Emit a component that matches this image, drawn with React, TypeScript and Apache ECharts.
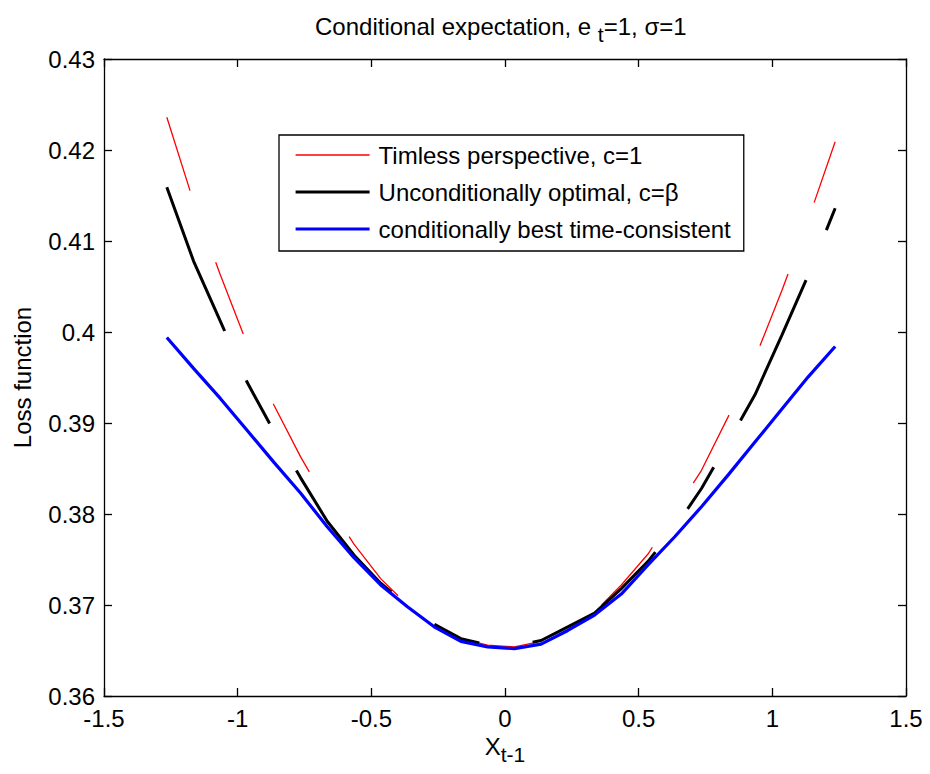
import React, { useEffect, useRef } from "react";
import * as echarts from "echarts";

const X_VALUES = [-1.265, -1.165, -1.065, -0.965, -0.865, -0.765, -0.665, -0.565, -0.465, -0.365, -0.265, -0.165, -0.065, 0.035, 0.135, 0.235, 0.335, 0.435, 0.535, 0.635, 0.735, 0.835, 0.935, 1.035, 1.135, 1.235];
const TIMELESS = [0.4236, 0.4143, 0.4063, 0.3987, 0.392, 0.3863, 0.3812, 0.3767, 0.3729, 0.37, 0.3679, 0.3663, 0.3656, 0.3654, 0.366, 0.3676, 0.3692, 0.3722, 0.3756, 0.3802, 0.3848, 0.3907, 0.3971, 0.4045, 0.4124, 0.4209];
const UNCOND = [0.4159, 0.4078, 0.4012, 0.3945, 0.3891, 0.384, 0.3792, 0.3755, 0.3724, 0.37, 0.3679, 0.3663, 0.3656, 0.3655, 0.3661, 0.3676, 0.3691, 0.3718, 0.3748, 0.3785, 0.3828, 0.3879, 0.3931, 0.3996, 0.4063, 0.4136];
const COND = [0.3994, 0.396, 0.3927, 0.3892, 0.3857, 0.3823, 0.3786, 0.3752, 0.3722, 0.3698, 0.3676, 0.366, 0.3654, 0.3652, 0.3657, 0.3672, 0.3689, 0.3712, 0.3744, 0.3775, 0.3808, 0.3843, 0.3879, 0.3915, 0.3951, 0.3984];

const SERIES_NAMES = [
  "Timless perspective, c=1",
  "Unconditionally optimal, c=β",
  "conditionally best time-consistent",
];

const FONT = "'Liberation Sans', Arial, Helvetica, sans-serif";

export default function App() {
  const ref = useRef<HTMLDivElement>(null);

  useEffect(() => {
    if (!ref.current) return;
    const chart = echarts.init(ref.current, undefined, { renderer: "svg" });

    const axisLine = { show: true, onZero: false, lineStyle: { color: "#000", width: 1.3 } };
    const axisTick = { show: true, inside: true, length: 8, lineStyle: { color: "#000", width: 1.3 } };
    const label = { fontSize: 24, color: "#000", fontFamily: FONT };

    const toPairs = (ys: number[]) => X_VALUES.map((x, i) => [x, ys[i]]);

    chart.setOption({
      animation: false,
      backgroundColor: "#fff",
      title: {
        text: "{a|Conditional expectation, e }{s|t}{a|=1, σ=1}",
        left: 315,
        top: 8,
        padding: 0,
        textStyle: {
          fontWeight: "normal",
          rich: {
            a: { fontSize: 24, color: "#000", fontFamily: FONT, fontWeight: "normal" },
            s: { fontSize: 21, color: "#000", fontFamily: FONT, fontWeight: "normal", padding: [16, 0, 0, 0] },
          },
        },
      },
      grid: { left: 104, right: 24, top: 59, bottom: 78, containLabel: false },
      legend: {
        orient: "vertical",
        left: 279,
        top: 135,
        padding: [8, 13, 10, 15],
        itemGap: 13,
        itemWidth: 74,
        itemHeight: 14,
        borderColor: "#000",
        borderWidth: 1.3,
        backgroundColor: "#fff",
        itemStyle: { opacity: 0 },
        lineStyle: { width: "inherit", type: "solid" },
        textStyle: { fontSize: 24, color: "#000", fontFamily: FONT, padding: [0, 0, 0, 4] },
        data: SERIES_NAMES,
      },
      xAxis: [
        {
          type: "value",
          position: "bottom",
          min: -1.5,
          max: 1.5,
          interval: 0.5,
          axisLine,
          axisTick,
          splitLine: { show: false },
          axisLabel: { ...label, margin: 10 },
          name: "{m|X}{s|t-1}",
          nameLocation: "middle",
          nameGap: 27,
          nameTextStyle: {
            rich: {
              m: { fontSize: 24, color: "#000", fontFamily: FONT },
              s: { fontSize: 21, color: "#000", fontFamily: FONT, padding: [16, 0, 0, 0] },
            },
          },
        },
        {
          type: "value",
          position: "top",
          min: -1.5,
          max: 1.5,
          interval: 0.5,
          axisLine,
          axisTick,
          splitLine: { show: false },
          axisLabel: { show: false },
        },
      ],
      yAxis: [
        {
          type: "value",
          position: "left",
          min: 0.36,
          max: 0.43,
          interval: 0.01,
          axisLine,
          axisTick,
          splitLine: { show: false },
          axisLabel: { ...label, margin: 9 },
          name: "Loss function",
          nameLocation: "middle",
          nameGap: 70,
          nameTextStyle: { fontSize: 24, color: "#000", fontFamily: FONT },
        },
        {
          type: "value",
          position: "right",
          min: 0.36,
          max: 0.43,
          interval: 0.01,
          axisLine,
          axisTick,
          splitLine: { show: false },
          axisLabel: { show: false },
        },
      ],
      series: [
        {
          name: SERIES_NAMES[0],
          type: "line",
          data: toPairs(TIMELESS),
          symbol: "none",
          lineStyle: { color: "#ff0000", width: 1.3, type: [77, 76], dashOffset: 0 },
          itemStyle: { color: "#ff0000" },
        },
        {
          name: SERIES_NAMES[1],
          type: "line",
          data: toPairs(UNCOND),
          symbol: "none",
          lineStyle: { color: "#000000", width: 3, type: [155, 54, 49, 54], dashOffset: 0 },
          itemStyle: { color: "#000000" },
        },
        {
          name: SERIES_NAMES[2],
          type: "line",
          data: toPairs(COND),
          symbol: "none",
          lineStyle: { color: "#0000ff", width: 3.2 },
          itemStyle: { color: "#0000ff" },
        },
      ],
    });

    return () => chart.dispose();
  }, []);

  return (
    <div
      ref={ref}
      style={{ position: "absolute", left: 0, top: 0, width: 930, height: 774 }}
    />
  );
}
